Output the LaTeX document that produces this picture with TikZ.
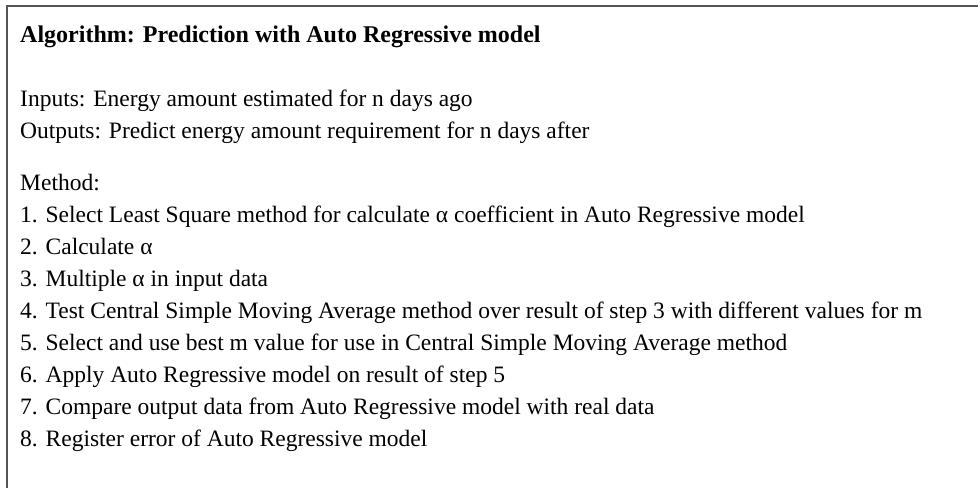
\documentclass[tikz,border=0pt]{standalone}
\usepackage{fontspec}
\setmainfont{Liberation Serif}
\usepackage{tikz}
\usetikzlibrary{positioning}

\definecolor{framegray}{HTML}{555555}

\begin{document}
\begin{tikzpicture}[x=1pt, y=-1pt,
    algline/.style={anchor=base west, inner sep=0pt, font=\fontsize{23.5}{26}\selectfont},
    algtitle/.style={anchor=base west, inner sep=0pt, font=\fontsize{24}{27}\selectfont\bfseries}]
    \useasboundingbox (0,0) rectangle (978,488);

    % Frame (top and left edges only)
    \draw[framegray, line width=2pt] (7,488) -- (7,6) -- (978,6);

    % Title
    \node[algtitle] (title) at (20,42) {Algorithm: Prediction with Auto Regressive model};

    % Inputs and outputs
    \node[algline] (inputs) at (20,106) {Inputs: Energy amount estimated for n days ago};
    \node[algline] (outputs) at (20,138) {Outputs: Predict energy amount requirement for n days after};

    % Method steps
    \node[algline] (method) at (20,190) {Method:};
    \node[algline] (s1) at (20,222) {1. Select Least Square method for calculate α coefficient in Auto Regressive model};
    \node[algline] (s2) at (20,254) {2. Calculate α};
    \node[algline] (s3) at (20,286) {3. Multiple α in input data};
    \node[algline] (s4) at (20,318) {4. Test Central Simple Moving Average method over result of step 3 with different values for m};
    \node[algline] (s5) at (20,350) {5. Select and use best m value for use in Central Simple Moving Average method};
    \node[algline] (s6) at (20,382) {6. Apply Auto Regressive model on result of step 5};
    \node[algline] (s7) at (20,414) {7. Compare output data from Auto Regressive model with real data};
    \node[algline] (s8) at (20,446) {8. Register error of Auto Regressive model};
\end{tikzpicture}
\end{document}
